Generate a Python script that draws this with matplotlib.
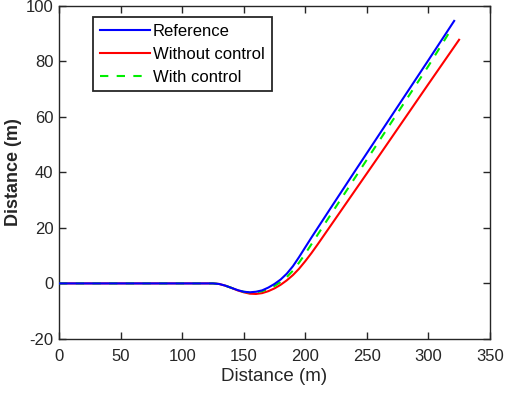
import numpy as np
import matplotlib.pyplot as plt

plt.rcParams['font.family'] = ['Liberation Sans', 'DejaVu Sans']
plt.rcParams['axes.unicode_minus'] = False

# values
x_ref = [0, 125, 130, 135, 140, 145, 150, 155, 160, 165, 170, 175, 180, 185, 190, 195,
         200, 205, 210, 220, 240, 260, 280, 300, 321]
y_ref = [0, 0, -0.2, -0.8, -1.6, -2.4, -3.0, -3.2, -3.0, -2.5, -1.5, -0.2, 1.4, 3.5, 6.2, 9.5,
         13.0, 16.5, 19.9, 26.7, 40.2, 53.6, 67.0, 80.4, 94.6]

x_noctrl = [0, 125, 130, 135, 140, 145, 150, 155, 160, 165, 170, 175, 180, 185, 190, 195,
            200, 205, 210, 220, 240, 260, 280, 300, 325]
y_noctrl = [0, 0, -0.2, -0.8, -1.6, -2.5, -3.2, -3.7, -3.8, -3.5, -2.8, -1.8, -0.5, 1.1, 3.0, 5.3,
            8.0, 10.9, 14.0, 20.4, 33.2, 46.0, 58.9, 71.8, 87.8]

x_ctrl = [0, 125, 130, 135, 140, 145, 150, 155, 160, 165, 170, 175, 180, 185, 190, 195,
          200, 205, 210, 220, 240, 260, 280, 300, 319.5]
y_ctrl = [0, 0, -0.2, -0.8, -1.6, -2.4, -3.0, -3.3, -3.2, -2.8, -2.0, -0.9, 0.5, 2.3, 4.6, 7.5,
          10.7, 14.1, 17.5, 24.3, 37.8, 51.3, 64.8, 78.3, 92.2]

fig = plt.figure(figsize=(5.05, 3.95), dpi=100)
ax = fig.add_axes([0.117, 0.142, 0.853, 0.843])

ax.plot(x_ref, y_ref, color='#0000ff', lw=1.5, label='Reference', zorder=4)
ax.plot(x_noctrl, y_noctrl, color='#ff0000', lw=1.5, label='Without control', zorder=2)
ax.plot(x_ctrl, y_ctrl, color='#00ee00', lw=1.5, ls=(0, (4, 4)), label='With control', zorder=3)

ax.set_xlim(0, 350)
ax.set_ylim(-20, 100)
ax.set_xticks(np.arange(0, 351, 50))
ax.set_yticks(np.arange(-20, 101, 20))
ax.tick_params(direction='in', top=True, right=True, labelsize=12, length=5, width=1.0,
               colors='#262626', pad=4)
ax.tick_params(axis='x', pad=7)
for s in ax.spines.values():
    s.set_color('#262626')
    s.set_linewidth(1.0)

ax.set_xlabel('Distance (m)', fontsize=13.5, labelpad=3, color='#262626')
ax.set_ylabel('Distance (m)', fontsize=13, fontweight='bold', labelpad=3, color='#262626')

leg = ax.legend(loc='upper left', bbox_to_anchor=(0.079, 0.967), fontsize=12,
                handlelength=3, handletextpad=0.2, borderpad=0.4, labelspacing=0.48,
                fancybox=False, framealpha=1, borderaxespad=0)
leg.get_frame().set_edgecolor('#262626')
leg.get_frame().set_linewidth(1.3)

fig.savefig('out.png', dpi=100)
